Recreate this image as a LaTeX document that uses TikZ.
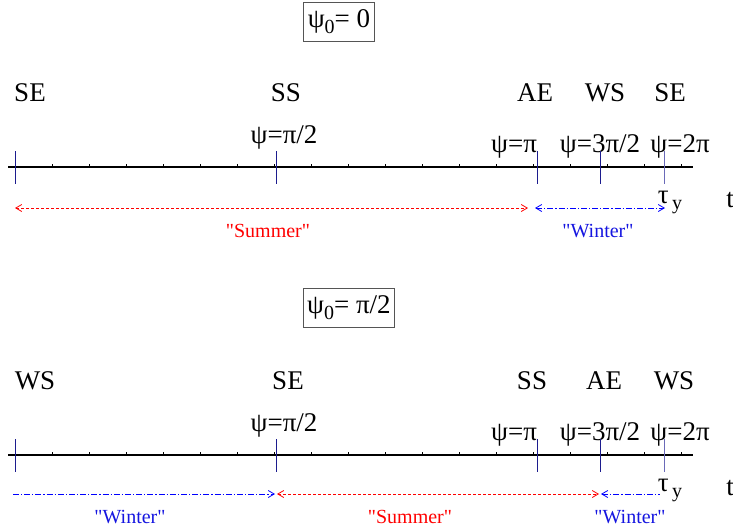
\documentclass[tikz,border=0pt]{standalone}
\usepackage{fontspec}
\setmainfont{Liberation Serif}
\usetikzlibrary{arrows.meta,positioning}
\definecolor{markblue}{HTML}{1C1C8E}
\definecolor{lastblue}{HTML}{6A6AB8}
\definecolor{summerred}{HTML}{FF0000}
\definecolor{winterblue}{HTML}{1515E0}
\definecolor{boxgray}{HTML}{555555}
\tikzset{
  lab/.style={font=\fontsize{27}{30}\selectfont,inner sep=0pt},
  phase/.style={lab,anchor=base},
  phasebox/.style={lab,draw=boxgray,line width=0.9pt,inner xsep=4pt,minimum height=39pt},
  season/.style={font=\fontsize{20}{23}\selectfont,inner sep=0pt},
  barb/.tip={Straight Barb[length=6pt,width=7pt]},
  summer/.style={summerred,line width=0.8pt,dash pattern=on 3pt off 2pt},
  winter/.style={blue,line width=0.8pt,dash pattern=on 6pt off 2pt on 1.2pt off 2pt},
  axisline/.style={black,line width=1.4pt},
}
\newcommand{\sub}[1]{\raisebox{-6pt}{\fontsize{20}{20}\selectfont #1}}
\newcommand{\q}{\textquotedbl}
\begin{document}
\begin{tikzpicture}[x=1pt,y=-1pt]
  \useasboundingbox (0,0) rectangle (733,531);

  % psi_0 = 0
  \node[phasebox] (top) at (339,22) {ψ\sub{0}= 0};
  \node[lab] (se1) at (30,93) {SE};
  \node[lab] (ss1) at (286,93) {SS};
  \node[lab] (ae1) at (535,93) {AE};
  \node[lab] (ws1) at (605,93) {WS};
  \node[lab] (se2) at (670,93) {SE};
  \node[phase] (p1) at (284,143) {ψ=π/2};
  \node[phase] (p2) at (514,152) {ψ=π};
  \node[phase] (p3) at (600,152) {ψ=3π/2};
  \node[phase] (p4) at (680,152) {ψ=2π};
  \draw[axisline] (8,167) -- (693,167);
  \foreach \k in {0,...,18} \draw[line width=0.8pt] (15+37*\k,167) -- ++(0,-3);
  \foreach \x/\c in {15/markblue,276/markblue,537/markblue,600/markblue,664/lastblue}
    \draw[\c,line width=1pt] (\x,151) -- (\x,184);
  \coordinate (a0) at (15,208);
  \coordinate (a1) at (528,208);
  \coordinate (a2) at (535,208);
  \coordinate (a3) at (665,208);
  \draw[summer,barb-barb] (a0) -- (a1);
  \draw[winter,barb-barb] (a2) -- (a3);
  \node[season,summerred] (su) at (268,231) {\q Summer\q};
  \node[season,winterblue] (wi) at (598,231) {\q Winter\q};
  \node[lab] (tau) at (670,202) {τ\sub{\,y}};
  \node[lab] (t) at (730,200) {t};

  % psi_0 = pi/2
  \begin{scope}[yshift=-288pt]
  \node[phasebox] (bot) at (349,20) {ψ\sub{0}= π/2};
  \node[lab] (ws3) at (35,93) {WS};
  \node[lab] (se3) at (288,93) {SE};
  \node[lab] (ss3) at (532,93) {SS};
  \node[lab] (ae3) at (604,93) {AE};
  \node[lab] (ws4) at (674,93) {WS};
  \node[phase] (q1) at (284,143) {ψ=π/2};
  \node[phase] (q2) at (514,152) {ψ=π};
  \node[phase] (q3) at (600,152) {ψ=3π/2};
  \node[phase] (q4) at (680,152) {ψ=2π};
  \draw[axisline] (8,167) -- (693,167);
  \foreach \k in {0,...,18} \draw[line width=0.8pt] (15+37*\k,167) -- ++(0,-3);
  \foreach \x/\c in {15/markblue,276/markblue,537/markblue,600/markblue,664/lastblue}
    \draw[\c,line width=1pt] (\x,151) -- (\x,184);
  \coordinate (b0) at (13,206);
  \coordinate (b1) at (275,206);
  \coordinate (b2) at (277,206);
  \coordinate (b3) at (599,206);
  \coordinate (b4) at (601,206);
  \coordinate (b5) at (660,206);
  \draw[winter,-barb] (b0) -- (b1);
  \draw[summer,barb-barb] (b2) -- (b3);
  \draw[winter,barb-] (b4) -- (b5);
  \node[season,winterblue] (wi2) at (130,229) {\q Winter\q};
  \node[season,summerred] (su2) at (410,229) {\q Summer\q};
  \node[season,winterblue] (wi3) at (630,229) {\q Winter\q};
  \node[lab] (tau2) at (670,202) {τ\sub{\,y}};
  \node[lab] (t2) at (730,200) {t};
  \end{scope}
\end{tikzpicture}
\end{document}
